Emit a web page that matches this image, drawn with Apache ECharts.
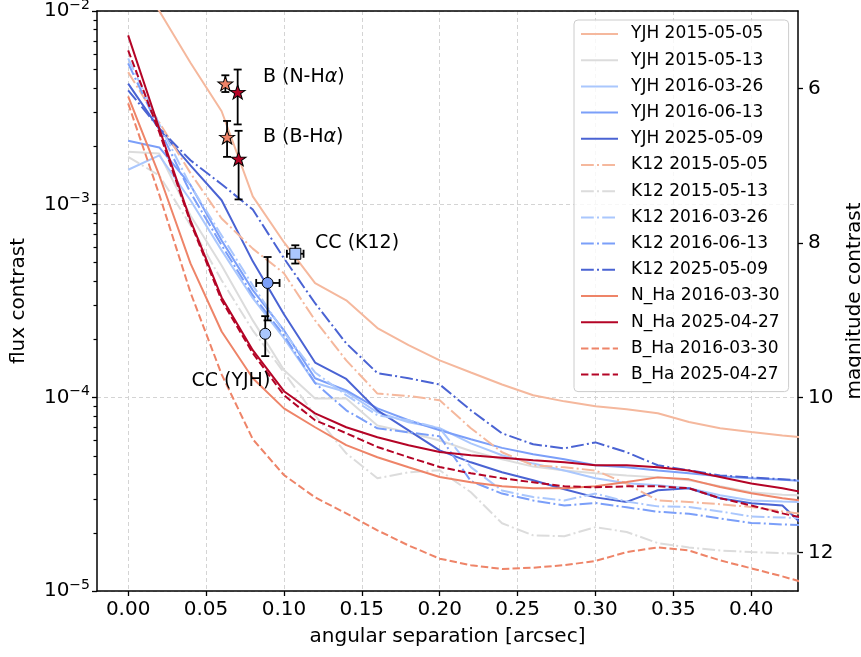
<!DOCTYPE html>
<html><head><meta charset="utf-8">
<script src="https://cdn.jsdelivr.net/npm/echarts@6/dist/echarts.min.js"></script>
<style>html,body{margin:0;padding:0;background:#fff}#c{width:861px;height:657px}</style>
</head><body><div id="c"></div>
<script>
// ---------------- data ----------------
const separation = [0.00,0.02,0.04,0.06,0.08,0.10,0.12,0.14,0.16,0.18,0.20,0.22,0.24,0.26,0.28,0.30,0.32,0.34,0.36,0.38,0.40,0.42,0.44];

const yjh_20150505 = [1.8e-2,1.0e-2,5.4e-3,3.03e-3,1.1e-3,6.37e-4,3.91e-4,3.19e-4,2.29e-4,1.87e-4,1.56e-4,1.35e-4,1.17e-4,1.03e-4,9.57e-5,9.02e-5,8.7e-5,8.3e-5,7.48e-5,6.94e-5,6.64e-5,6.38e-5,6.16e-5];
const yjh_20150513 = [1.87e-3,1.83e-3,8.75e-4,4.83e-4,2.51e-4,1.39e-4,9.9e-5,9.9e-5,7.18e-5,6.6e-5,6.0e-5,5.3e-5,4.8e-5,4.4e-5,4.2e-5,4.06e-5,3.96e-5,3.87e-5,3.74e-5,3.48e-5,3.24e-5,3.15e-5,3.1e-5];
const yjh_20160326 = [1.51e-3,1.79e-3,1.05e-3,5.78e-4,3.27e-4,2.03e-4,1.19e-4,1.07e-4,8.4e-5,7.46e-5,6.95e-5,5.8e-5,5.04e-5,4.56e-5,4.2e-5,3.83e-5,3.61e-5,3.52e-5,3.4e-5,3.13e-5,2.94e-5,2.9e-5,2.88e-5];
const yjh_20160613 = [2.13e-3,1.97e-3,1.26e-3,6.5e-4,3.6e-4,2.23e-4,1.26e-4,1.09e-4,8.8e-5,7.64e-5,6.78e-5,6.1e-5,5.5e-5,5.1e-5,4.8e-5,4.47e-5,4.37e-5,4.2e-5,4.06e-5,3.92e-5,3.83e-5,3.76e-5,3.69e-5];
const yjh_20250509 = [4.21e-3,2.45e-3,1.59e-3,1.05e-3,5.07e-4,2.7e-4,1.52e-4,1.25e-4,8.6e-5,6.78e-5,5.34e-5,4.63e-5,4.11e-5,3.74e-5,3.36e-5,3.05e-5,2.89e-5,3.32e-5,3.4e-5,3.02e-5,2.84e-5,2.77e-5,1.94e-5];
const k12_20150505 = [4.83e-3,2.65e-3,1.45e-3,8.45e-4,5.9e-4,4.4e-4,2.51e-4,1.56e-4,1.05e-4,1.02e-4,9.7e-5,6.95e-5,5.22e-5,4.47e-5,4.36e-5,4.2e-5,3.59e-5,2.94e-5,2.89e-5,2.81e-5,2.72e-5,2.58e-5,2.46e-5];
const k12_20150513 = [1.76e-3,1.41e-3,7.8e-4,4.05e-4,2.23e-4,1.35e-4,8.1e-5,5.15e-5,3.83e-5,4.11e-5,4.21e-5,3.24e-5,2.24e-5,1.94e-5,1.92e-5,2.14e-5,2.02e-5,1.77e-5,1.68e-5,1.62e-5,1.59e-5,1.57e-5,1.55e-5];
const k12_20160326 = [5.69e-3,2.6e-3,1.25e-3,6.9e-4,3.81e-4,2.18e-4,1.35e-4,1.03e-4,8.1e-5,7.64e-5,6.95e-5,4.37e-5,3.31e-5,3.06e-5,2.94e-5,3.19e-5,2.9e-5,2.74e-5,2.72e-5,2.58e-5,2.43e-5,2.4e-5,2.37e-5];
const k12_20160613 = [5.36e-3,2.45e-3,1.15e-3,6.14e-4,3.39e-4,2.1e-4,1.19e-4,8.6e-5,6.94e-5,6.62e-5,6.31e-5,3.7e-5,3.19e-5,2.94e-5,2.77e-5,2.85e-5,2.71e-5,2.57e-5,2.51e-5,2.37e-5,2.25e-5,2.21e-5,2.18e-5];
const k12_20250509 = [3.89e-3,2.47e-3,1.69e-3,1.27e-3,9.4e-4,5.26e-4,3.08e-4,1.91e-4,1.34e-4,1.26e-4,1.17e-4,8.6e-5,6.54e-5,5.74e-5,5.47e-5,5.87e-5,5.22e-5,4.47e-5,4.21e-5,3.96e-5,3.87e-5,3.78e-5,3.69e-5];
const nha_20160330 = [3.62e-3,1.41e-3,4.95e-4,2.2e-4,1.26e-4,8.8e-5,7.03e-5,5.68e-5,4.92e-5,4.37e-5,3.89e-5,3.65e-5,3.48e-5,3.4e-5,3.4e-5,3.48e-5,3.66e-5,3.87e-5,3.78e-5,3.45e-5,3.2e-5,3.02e-5,2.88e-5];
const nha_20250427 = [7.48e-3,2.46e-3,8.26e-4,3.3e-4,1.76e-4,1.08e-4,8.3e-5,7.03e-5,6.24e-5,5.67e-5,5.24e-5,5.04e-5,4.89e-5,4.74e-5,4.63e-5,4.47e-5,4.47e-5,4.36e-5,4.2e-5,3.89e-5,3.6e-5,3.4e-5,3.16e-5];
const bha_20160330 = [3.33e-3,1.12e-3,3.5e-4,1.32e-4,6.1e-5,3.98e-5,3.05e-5,2.52e-5,2.06e-5,1.72e-5,1.47e-5,1.36e-5,1.3e-5,1.32e-5,1.36e-5,1.43e-5,1.59e-5,1.68e-5,1.62e-5,1.44e-5,1.31e-5,1.19e-5,1.07e-5];
const bha_20250427 = [6.26e-3,2.36e-3,8.07e-4,3.19e-4,1.7e-4,1.03e-4,7.64e-5,6.55e-5,5.56e-5,4.92e-5,4.38e-5,4.06e-5,3.83e-5,3.65e-5,3.48e-5,3.44e-5,3.48e-5,3.48e-5,3.4e-5,3.02e-5,2.77e-5,2.52e-5,2.32e-5];

const curveNames = ['YJH 2015-05-05','YJH 2015-05-13','YJH 2016-03-26','YJH 2016-06-13','YJH 2025-05-09',
  'K12 2015-05-05','K12 2015-05-13','K12 2016-03-26','K12 2016-06-13','K12 2025-05-09',
  'N_Ha 2016-03-30','N_Ha 2025-04-27','B_Ha 2016-03-30','B_Ha 2025-04-27'];
const curveValues = [yjh_20150505,yjh_20150513,yjh_20160326,yjh_20160613,yjh_20250509,
  k12_20150505,k12_20150513,k12_20160326,k12_20160613,k12_20250509,
  nha_20160330,nha_20250427,bha_20160330,bha_20250427];

// companion / candidate measurements
const pointNames = ['B N-Ha 2016','B N-Ha 2025','B B-Ha 2016','B B-Ha 2025','CC K12','CC YJH 2016-06-13','CC YJH 2016-03-26'];
const pointX   = [0.0624, 0.0703, 0.0635, 0.0709, 0.1073, 0.0895, 0.0880];
const pointY   = [4.21e-3, 3.81e-3, 2.23e-3, 1.72e-3, 5.55e-4, 3.92e-4, 2.14e-4];
const pointXLo = [0.0624, 0.0703, 0.0635, 0.0709, 0.1019, 0.0822, 0.0880];
const pointXHi = [0.0624, 0.0703, 0.0635, 0.0709, 0.1126, 0.0972, 0.0880];
const pointYLo = [3.81e-3, 2.59e-3, 1.76e-3, 1.06e-3, 4.94e-4, 2.51e-4, 1.64e-4];
const pointYHi = [4.65e-3, 4.98e-3, 2.70e-3, 2.40e-3, 6.14e-4, 5.34e-4, 2.64e-4];

// text annotations (data coordinates)
const annText = ['B (N-H{i|α})','B (B-H{i|α})','CC (K12)','CC (YJH)'];
const annX = [0.0865, 0.0865, 0.1200, 0.0406];
const annY = [4.54e-3, 2.22e-3, 6.29e-4, 1.22e-4];

const xTicks = [0.00,0.05,0.10,0.15,0.20,0.25,0.30,0.35,0.40];
const magTicks = [6,8,10,12];

// ---------------- styles ----------------
const C = {p0505:'#f5b89d', p0513:'#dcdcdc', p0326:'#aac7fd', p0613:'#7b9ff9', p2025:'#4a63d3', h2016:'#ee8468', h2025:'#b40426'};
const curveColors = [C.p0505,C.p0513,C.p0326,C.p0613,C.p2025, C.p0505,C.p0513,C.p0326,C.p0613,C.p2025, C.h2016,C.h2025,C.h2016,C.h2025];
const DASHDOT = [12.8,3.2,2,3.2], DASHED = [7.4,3.2];
const curveDash = ['solid','solid','solid','solid','solid',DASHDOT,DASHDOT,DASHDOT,DASHDOT,DASHDOT,'solid','solid',DASHED,DASHED];
const pointColors = [C.h2016, C.h2025, C.h2016, C.h2025, C.p0326, C.p0613, C.p0326];
const STAR = 'path://M0,-10L2.35,-3.24L9.51,-3.09L3.8,1.24L5.88,8.09L0,4L-5.88,8.09L-3.8,1.24L-9.51,-3.09L-2.35,-3.24Z';
const pointSymbols = [STAR,STAR,STAR,STAR,'rect','circle','circle'];
const pointSizes = [[15,14],[15,14],[15,14],[15,14],11,11,11];

const FONT = 'DejaVu Sans';
const minorLog = [];
for (let e = -5; e < -2; e++) for (let m = 2; m <= 9; m++) minorLog.push(e + Math.log10(m));

const series = curveNames.map((n, k) => ({
  type: 'line', name: n, symbol: 'none', showSymbol: false, clip: true,
  data: separation.map((x, i) => [x, curveValues[k][i]]),
  lineStyle: {color: curveColors[k], width: 2, type: curveDash[k], cap: 'butt'},
  itemStyle: {color: curveColors[k]},
  emphasis: {disabled: true}, z: 2
}));

series.push({
  type: 'custom', name: 'errorbars', z: 5, clip: false,
  data: pointX.map((x, i) => [x, pointY[i], pointXLo[i], pointXHi[i], pointYLo[i], pointYHi[i]]),
  encode: {x: 0, y: 1},
  renderItem: function (params, api) {
    const x = api.value(0), y = api.value(1);
    const top = api.coord([x, api.value(5)]), bot = api.coord([x, api.value(4)]);
    const lft = api.coord([api.value(2), y]), rgt = api.coord([api.value(3), y]);
    const st = {stroke: '#000', lineWidth: 1.8};
    const cap = 4;
    const ch = [];
    if (bot[1] - top[1] > 1) {
      ch.push({type: 'line', shape: {x1: top[0], y1: top[1], x2: bot[0], y2: bot[1]}, style: st});
      ch.push({type: 'line', shape: {x1: top[0]-cap, y1: top[1], x2: top[0]+cap, y2: top[1]}, style: st});
      ch.push({type: 'line', shape: {x1: bot[0]-cap, y1: bot[1], x2: bot[0]+cap, y2: bot[1]}, style: st});
    }
    if (rgt[0] - lft[0] > 1) {
      ch.push({type: 'line', shape: {x1: lft[0], y1: lft[1], x2: rgt[0], y2: rgt[1]}, style: st});
      ch.push({type: 'line', shape: {x1: lft[0], y1: lft[1]-cap, x2: lft[0], y2: lft[1]+cap}, style: st});
      ch.push({type: 'line', shape: {x1: rgt[0], y1: rgt[1]-cap, x2: rgt[0], y2: rgt[1]+cap}, style: st});
    }
    return {type: 'group', children: ch};
  }
});

series.push({
  type: 'scatter', name: 'points', z: 6, clip: false,
  itemStyle: {opacity: 1},
  data: pointX.map((x, i) => ({
    value: [x, pointY[i]], symbol: pointSymbols[i], symbolSize: pointSizes[i],
    itemStyle: {color: pointColors[i], borderColor: '#000', borderWidth: 1, opacity: 1}
  })),
  emphasis: {disabled: true}
});

series.push({
  type: 'scatter', name: 'annotations', z: 7, symbolSize: 0, clip: false,
  itemStyle: {opacity: 1},
  data: annX.map((x, i) => ({value: [x, annY[i]], txt: annText[i]})),
  label: {
    show: true, position: 'right', distance: 0, color: '#000', opacity: 1, fontFamily: FONT, fontSize: 19,
    formatter: p => p.data.txt,
    rich: {i: {fontStyle: 'italic', fontSize: 19, fontFamily: FONT, color: '#000'}}
  },
  emphasis: {disabled: true}
});

const axisLine = {show: true, onZero: false, lineStyle: {color: '#000', width: 1.5}};
const gridLine = {show: true, lineStyle: {color: '#d4d4d4', width: 1, type: [4, 3]}};

const option = {
  animation: false,
  textStyle: {fontFamily: FONT},
  grid: {left: 97, right: 63, top: 11, bottom: 66, containLabel: false, outerBoundsMode: 'none'},
  legend: {
    orient: 'vertical', left: 574, top: 20, padding: [4, 9, 7, 6], itemGap: 6.2,
    itemWidth: 37, itemHeight: 14, backgroundColor: 'rgba(255,255,255,0.8)',
    borderColor: '#cccccc', borderWidth: 1, borderRadius: 4,
    itemStyle: {opacity: 0, borderWidth: 0},
    textStyle: {fontSize: 17, lineHeight: 20, color: '#000', fontFamily: FONT, padding: [0, 0, 0, 8]},
    data: curveNames, selectedMode: false
  },
  xAxis: [{
    type: 'value', min: -0.02, max: 0.43, position: 'bottom',
    name: 'angular separation [arcsec]', nameLocation: 'middle', nameGap: 36,
    nameTextStyle: {fontSize: 20, color: '#000', fontFamily: FONT},
    axisLine: axisLine,
    axisTick: {show: true, length: 5, lineStyle: {color: '#000', width: 1.3}, customValues: xTicks},
    axisLabel: {fontSize: 20, color: '#000', margin: 9, customValues: xTicks, formatter: v => v.toFixed(2)},
    splitLine: gridLine
  }, {
    type: 'value', min: -0.02, max: 0.43, position: 'top',
    axisLine: axisLine, axisTick: {show: false}, axisLabel: {show: false}, splitLine: {show: false}
  }],
  yAxis: [{
    type: 'log', logBase: 10, min: 1e-5, max: 1e-2, position: 'left',
    name: 'flux contrast', nameLocation: 'middle', nameRotate: 90, nameGap: 68,
    nameTextStyle: {fontSize: 20, color: '#000', fontFamily: FONT},
    axisLine: axisLine,
    axisTick: {show: true, length: 5, lineStyle: {color: '#000', width: 1.3}},
    axisLabel: {
      color: '#000', margin: 7,
      formatter: v => '{b|10}{s|−' + Math.abs(Math.round(Math.log10(v))) + '}',
      rich: {b: {fontSize: 20, fontFamily: FONT, color: '#000'},
             s: {fontSize: 14, fontFamily: FONT, color: '#000', padding: [0, 0, 12, 0]}}
    },
    splitLine: gridLine
  }, {
    type: 'value', min: 5, max: 12.5, inverse: true, position: 'right',
    name: 'magnitude contrast', nameLocation: 'middle', nameRotate: 90, nameGap: 42,
    nameTextStyle: {fontSize: 20, color: '#000', fontFamily: FONT},
    axisLine: axisLine,
    axisTick: {show: true, length: 5, lineStyle: {color: '#000', width: 1.3}, customValues: magTicks},
    axisLabel: {fontSize: 20, color: '#000', margin: 10, customValues: magTicks},
    splitLine: {show: false}
  }, {
    type: 'value', min: -5, max: -2, position: 'left',
    axisLine: {show: false, onZero: false},
    axisTick: {show: true, length: 3.5, lineStyle: {color: '#000', width: 1.2}, customValues: minorLog},
    axisLabel: {show: false, customValues: minorLog},
    splitLine: {show: false}
  }],
  series: series
};

const chart = echarts.init(document.getElementById('c'), null, {renderer: 'canvas'});
chart.setOption(option);
</script>
</body></html>
